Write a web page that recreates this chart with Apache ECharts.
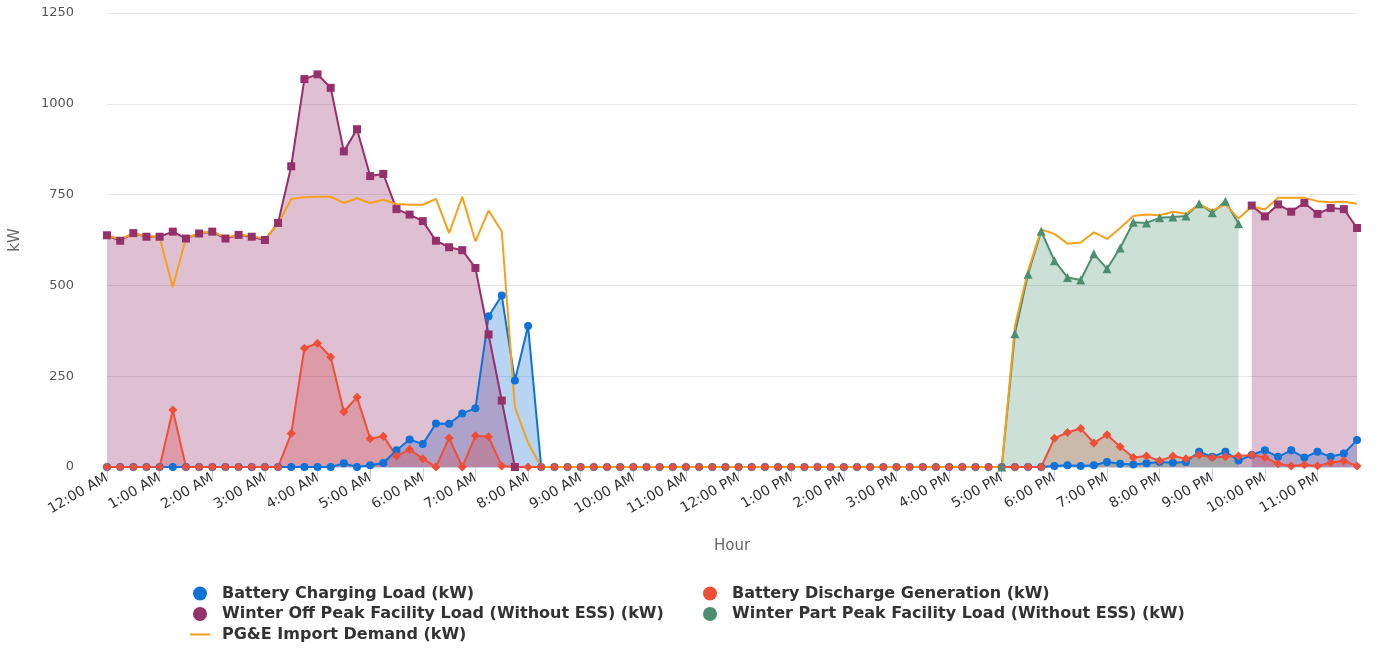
<!DOCTYPE html>
<html>
<head>
<meta charset="utf-8">
<script src="https://cdn.jsdelivr.net/npm/echarts@6/dist/echarts.min.js"></script>
<style>
  html, body { margin: 0; padding: 0; background: #fff; }
  #chart { width: 1383px; height: 650px; }
</style>
</head>
<body>
<div id="chart"></div>
<script>
// 15 minute slots, 12:00 AM .. 11:45 PM
const categories = [];
for (let h = 0; h < 24; h++) {
  for (const m of ["00", "15", "30", "45"]) {
    const hr = h % 12 === 0 ? 12 : h % 12;
    categories.push(hr + ":" + m + " " + (h < 12 ? "AM" : "PM"));
  }
}

const charging = [
  0, 0, 0, 0, 0, 0, 0, 0, 0, 0, 0, 0,
  0, 0, 0, 0, 0, 0, 10, 0, 5, 11, 46, 76,
  63, 120, 119, 147, 162, 415, 472, 238, 388, 0, 0, 0,
  0, 0, 0, 0, 0, 0, 0, 0, 0, 0, 0, 0,
  0, 0, 0, 0, 0, 0, 0, 0, 0, 0, 0, 0,
  0, 0, 0, 0, 0, 0, 0, 0, 0, 0, 0, 0,
  3, 5, 3, 5, 14, 9, 7, 10, 14, 12, 14, 42,
  28, 42, 18, 33, 46, 28, 46, 26, 42, 28, 37, 74
];

const discharge = [
  0, 0, 0, 0, 0, 157, 0, 0, 0, 0, 0, 0,
  0, 0, 92, 327, 341, 303, 152, 192, 78, 85, 30, 48,
  23, 0, 80, 0, 86, 83, 3, 0, 0, 0, 0, 0,
  0, 0, 0, 0, 0, 0, 0, 0, 0, 0, 0, 0,
  0, 0, 0, 0, 0, 0, 0, 0, 0, 0, 0, 0,
  0, 0, 0, 0, 0, 0, 0, 0, 0, 0, 0, 0,
  79, 95, 106, 66, 89, 56, 26, 30, 17, 30, 23, 33,
  26, 28, 30, 33, 26, 9, 3, 6, 3, 12, 17, 3
];

const offPeak = [
  638, 623, 644, 634, 634, 648, 629, 643, 648, 629, 639, 634,
  625, 672, 828, 1068, 1081, 1044, 869, 930, 801, 807, 710, 695,
  677, 623, 605, 597, 548, 365, 183, 0, null, null, null, null,
  null, null, null, null, null, null, null, null, null, null, null, null,
  null, null, null, null, null, null, null, null, null, null, null, null,
  null, null, null, null, null, null, null, null, null, null, null, null,
  null, null, null, null, null, null, null, null, null, null, null, null,
  null, null, null, 720, 690, 723, 703, 727, 697, 713, 710, 658
];

const partPeak = [
  null, null, null, null, null, null, null, null, null, null, null, null,
  null, null, null, null, null, null, null, null, null, null, null, null,
  null, null, null, null, null, null, null, null, null, null, null, null,
  null, null, null, null, null, null, null, null, null, null, null, null,
  null, null, null, null, null, null, null, null, null, null, null, null,
  null, null, null, null, null, null, null, null, 0, 367, 531, 649,
  568, 522, 515, 587, 546, 603, 674, 672, 686, 688, 691, 725,
  700, 732, 670, null, null, null, null, null, null, null, null, null
];

const importDemand = [
  638, 627, 643, 637, 632, 495, 630, 643, 649, 632, 639, 637,
  627, 669, 738, 743, 744, 744, 727, 740, 727, 736, 724, 722,
  722, 738, 644, 744, 621, 706, 649, 164, 67, 0, 0, 0,
  0, 0, 0, 0, 0, 0, 0, 0, 0, 0, 0, 0,
  0, 0, 0, 0, 0, 0, 0, 0, 0, 0, 0, 0,
  0, 0, 0, 0, 0, 0, 0, 0, 0, 388, 540, 654,
  642, 615, 618, 646, 628, 658, 691, 695, 693, 703, 697, 723,
  706, 723, 684, 717, 709, 741, 741, 741, 732, 729, 730, 725
];

const names = [
  "Battery Charging Load (kW)",
  "Battery Discharge Generation (kW)",
  "Winter Off Peak Facility Load (Without ESS) (kW)",
  "Winter Part Peak Facility Load (Without ESS) (kW)",
  "PG&E Import Demand (kW)"
];

const FONT = "DejaVu Sans";
const legendText = { color: "#333", fontSize: 16, fontWeight: "bold", fontFamily: FONT, lineHeight: 17 };

function areaSeries(name, data, color, symbol, size, opacity) {
  return {
    name: name,
    type: "line",
    data: data,
    symbol: symbol,
    symbolSize: size,
    showAllSymbol: true,
    connectNulls: false,
    itemStyle: { color: color },
    lineStyle: { color: color, width: 2 },
    areaStyle: { color: color, opacity: opacity },
    emphasis: { disabled: true }
  };
}

const chart = echarts.init(document.getElementById("chart"));
chart.setOption({
  animation: false,
  textStyle: { fontFamily: FONT },
  grid: { left: 106, right: 26, top: 13, bottom: 183 },
  legend: [
    {
      orient: "vertical", left: 193, top: 585, padding: 0, itemGap: 3.5,
      itemWidth: 34, itemHeight: 14, icon: "circle",
      data: [names[0], names[2]], textStyle: legendText
    },
    {
      orient: "vertical", left: 703, top: 585, padding: 0, itemGap: 3.5,
      itemWidth: 34, itemHeight: 14, icon: "circle",
      data: [names[1], names[3]], textStyle: legendText
    },
    {
      left: 190, top: 626, padding: 0,
      itemWidth: 20, itemHeight: 2, icon: "rect",
      data: [names[4]], textStyle: Object.assign({}, legendText, { padding: [0, 0, 0, 7] })
    }
  ],
  xAxis: {
    type: "category",
    boundaryGap: false,
    data: categories,
    name: "Hour",
    nameLocation: "middle",
    nameGap: 72,
    nameTextStyle: { color: "#666", fontSize: 15 },
    axisLine: { lineStyle: { color: "#ccd6eb" } },
    axisTick: { interval: 3, length: 12, lineStyle: { color: "#ccd6eb" } },
    axisLabel: { interval: 3, rotate: 30, fontSize: 14, color: "#333", margin: 10 },
    splitLine: { show: false }
  },
  yAxis: {
    type: "value",
    min: 0,
    max: 1250,
    interval: 250,
    name: "kW",
    nameLocation: "middle",
    nameGap: 84,
    nameTextStyle: { color: "#666", fontSize: 15 },
    axisLine: { show: false },
    axisTick: { show: false },
    axisLabel: { color: "#555", fontSize: 13, margin: 33, formatter: (v) => String(v) },
    splitLine: { lineStyle: { color: "#e6e6e6" } }
  },
  series: [
    areaSeries(names[0], charging, "#0f72d8", "circle", 8, 0.3),
    areaSeries(names[1], discharge, "#f04e37", "diamond", 9, 0.3),
    areaSeries(names[2], offPeak, "#95306a", "rect", 8, 0.3),
    areaSeries(names[3], partPeak, "#4c8f70", "triangle", 9, 0.28),
    {
      name: names[4],
      type: "line",
      data: importDemand,
      showSymbol: false,
      symbol: "none",
      itemStyle: { color: "#f5a11d" },
      lineStyle: { color: "#f5a11d", width: 2 },
      emphasis: { disabled: true }
    }
  ]
});
</script>
</body>
</html>
